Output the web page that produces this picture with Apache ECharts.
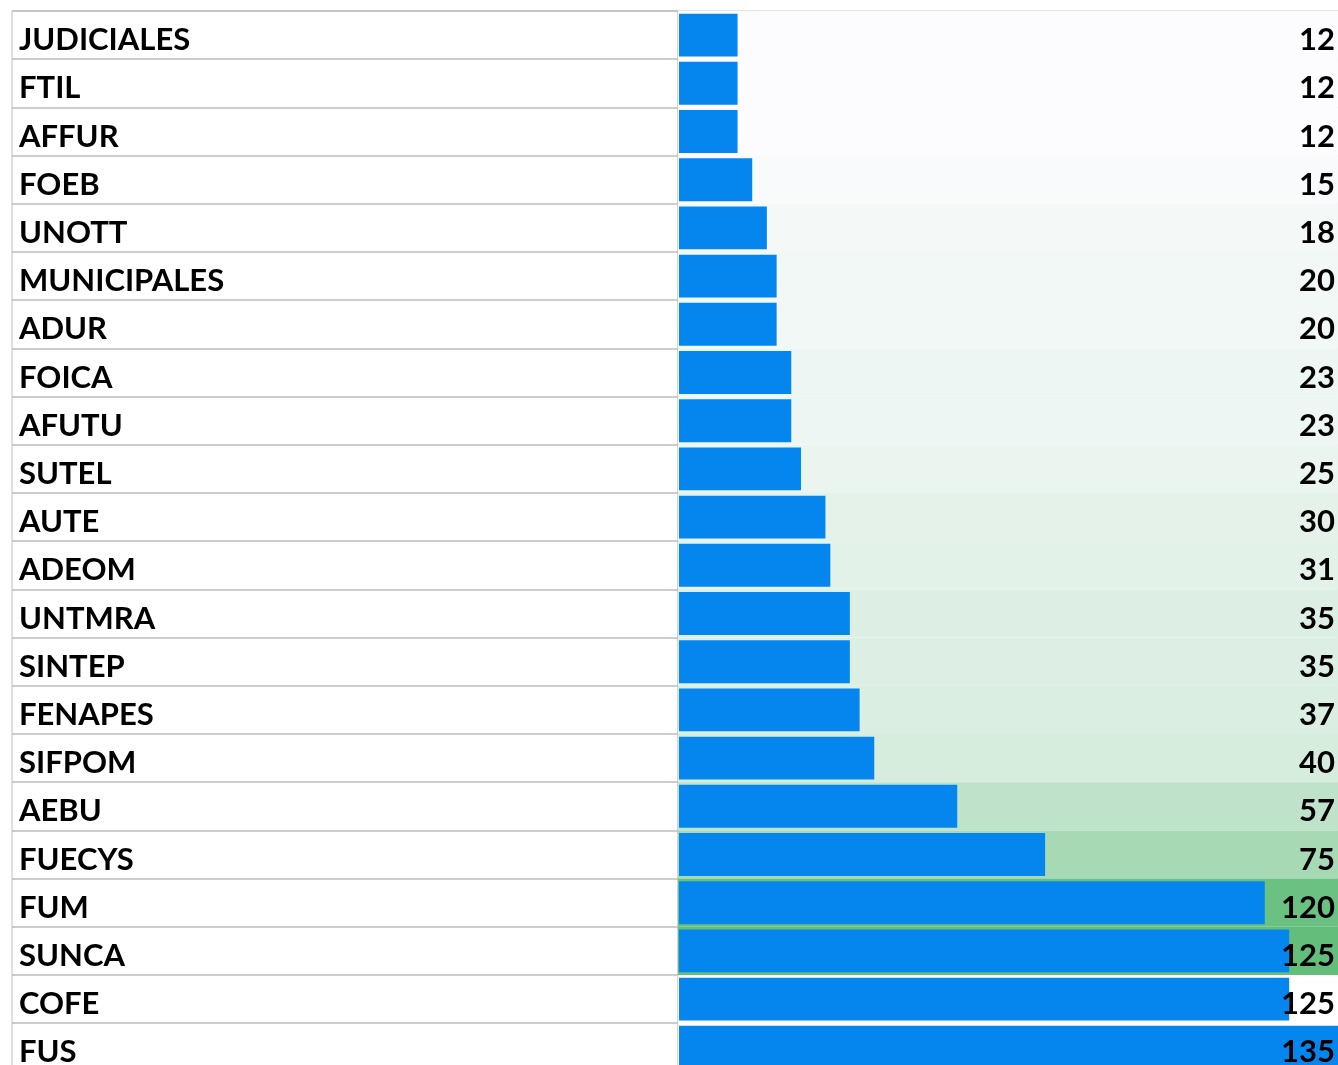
<!DOCTYPE html>
<html>
<head>
<meta charset="utf-8">
<script src="https://cdn.jsdelivr.net/npm/echarts@6/dist/echarts.min.js"></script>
<style>
html,body{margin:0;padding:0;background:#fff;overflow:hidden;}
#c{width:1338px;height:1080px;}
</style>
</head>
<body>
<div id="c"></div>
<script>
const categories = ['JUDICIALES','FTIL','AFFUR','FOEB','UNOTT','MUNICIPALES','ADUR','FOICA','AFUTU','SUTEL','AUTE','ADEOM','UNTMRA','SINTEP','FENAPES','SIFPOM','AEBU','FUECYS','FUM','SUNCA','COFE','FUS'];
const values = [12,12,12,15,18,20,20,23,23,25,30,31,35,35,37,40,57,75,120,125,125,135];
const colorScaleRows = 20; // the colour scale covers the first 20 rows

const maxVal = Math.max(...values);
const scaleVals = values.slice(0, colorScaleRows);
const sMin = Math.min(...scaleVals), sMax = Math.max(...scaleVals);
const lo = [252,252,255], hi = [99,190,123];
function scaleColor(i){
  if (i >= colorScaleRows) return '#ffffff';
  const t = (values[i]-sMin)/(sMax-sMin);
  const c = lo.map((a,k)=>Math.round(a+(hi[k]-a)*t));
  return 'rgb('+c.join(',')+')';
}

const rowH = 48.2;
const gridTop = 11;
const textShift = 5;
const H = rowH*categories.length;
const font = 'Lato';
const fs = 31;

const chart = echarts.init(document.getElementById('c'));
chart.setOption({
  animation:false,
  grid:[
    {left:12, width:666, top:gridTop, height:H, show:true, borderColor:'#BDBDBD', borderWidth:1, backgroundColor:'#fff'},
    {left:678, right:-2, top:gridTop, height:H, show:true, borderColor:'#C8C8C8', borderWidth:1},
    {left:679, right:-2, top:gridTop, height:H},
    {left:12, width:666, top:gridTop+textShift, height:H}
  ],
  xAxis:[
    {gridIndex:0, type:'value', show:false, min:0, max:1},
    {gridIndex:1, type:'value', show:false, min:0, max:maxVal},
    {gridIndex:2, type:'value', show:false, min:0, max:maxVal},
    {gridIndex:3, type:'value', show:false, min:0, max:1}
  ],
  yAxis:[
    {gridIndex:0, type:'category', inverse:true, data:categories,
     axisLine:{show:false}, axisTick:{show:false}, axisLabel:{show:false},
     splitLine:{show:true, interval:0, lineStyle:{color:'#BDBDBD', width:1.5}}},
    {gridIndex:1, type:'category', inverse:true, data:categories, show:false},
    {gridIndex:2, type:'category', inverse:true, data:categories, show:false},
    {gridIndex:3, type:'category', inverse:true, data:categories,
     axisLine:{show:false}, axisTick:{show:false}, splitLine:{show:false},
     axisLabel:{inside:true, margin:7, interval:0, color:'#000', fontFamily:font, fontWeight:'bold', fontSize:fs}}
  ],
  series:[
    {type:'bar', xAxisIndex:1, yAxisIndex:1, barCategoryGap:'0%', silent:true, z:1,
     data:values.map((v,i)=>({value:maxVal, itemStyle:{color:scaleColor(i)}}))},
    {type:'bar', xAxisIndex:2, yAxisIndex:2, barCategoryGap:'11%', barGap:'-100%', silent:true, z:2,
     itemStyle:{color:'#0586EE'}, data:values},
    {type:'bar', xAxisIndex:2, yAxisIndex:2, barCategoryGap:'11%', barGap:'-100%', silent:true, z:3,
     itemStyle:{color:'rgba(0,0,0,0)'}, data:values.map(()=>maxVal),
     label:{show:true, position:'insideRight', distance:3, offset:[0,textShift], color:'#000', fontFamily:font, fontWeight:'bold', fontSize:fs,
       formatter:p=>String(values[p.dataIndex])}}
  ]
});
</script>
</body>
</html>
